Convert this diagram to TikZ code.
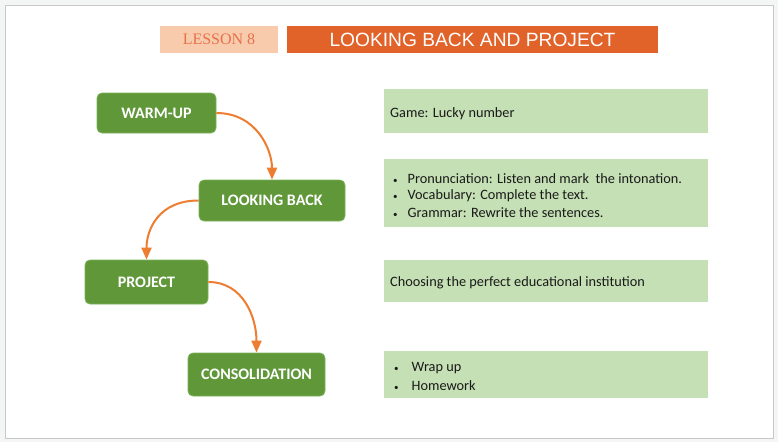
\documentclass[tikz,border=0pt]{standalone}
\usepackage{fontspec}
\setmainfont{Carlito}
\newfontfamily\arialf{Liberation Sans}
\newfontfamily\serff{Liberation Serif}
\usetikzlibrary{arrows.meta}
\definecolor{pagebg}{HTML}{F4F6F6}
\definecolor{framec}{HTML}{C8C8C8}
\definecolor{peach}{HTML}{F8CBAD}
\definecolor{salmon}{HTML}{E8704A}
\definecolor{titleor}{HTML}{E2632A}
\definecolor{greenf}{HTML}{5F9739}
\definecolor{greend}{HTML}{7DB35A}
\definecolor{lgreen}{HTML}{C5E0B4}
\definecolor{arrowc}{HTML}{ED7D31}
\definecolor{txt}{HTML}{1A1A1A}
\newcommand{\smbul}{{\fontsize{9}{9}\selectfont\textbullet}}
\tikzset{
  stepbox/.style={draw=greend, line width=0.8pt, fill=greenf, rounded corners=5pt, text=white,
    font=\fontsize{16}{18}\selectfont\bfseries, inner sep=0pt},
  infobox/.style={fill=lgreen, inner sep=0pt},
  infotext/.style={anchor=west, text=txt, font=\fontsize{14.3}{17}\selectfont, inner sep=0pt},
  flowarrow/.style={draw=arrowc, line width=2pt, -{Triangle[length=12pt,width=10pt]}},
}
\begin{document}
\begin{tikzpicture}[x=1pt,y=-1pt]
\fill[pagebg] (0,0) rectangle (778,442);
\useasboundingbox (0,0) rectangle (778,442);
\filldraw[fill=white, draw=framec, line width=1pt] (5,5) rectangle (773,438);

% header
\node[fill=peach, minimum width=118pt, minimum height=27pt, inner sep=0pt, text=salmon,
  font=\serff\fontsize{16}{18}\selectfont] (lesson) at (219,39.5) {LESSON 8};
\node[fill=titleor, minimum width=371pt, minimum height=27pt, inner sep=0pt, text=white,
  font=\arialf\fontsize{19.2}{22}\selectfont] (title) at (472.5,39.5) {LOOKING BACK AND PROJECT};

% step boxes
\node[stepbox, minimum width=119pt, minimum height=40pt] (warm) at (156.5,113) {WARM-UP};
\node[stepbox, minimum width=146pt, minimum height=41pt] (look) at (272,200.5) {LOOKING BACK};
\node[stepbox, minimum width=123pt, minimum height=44pt] (proj) at (146.5,282) {PROJECT};
\node[stepbox, minimum width=137pt, minimum height=43pt] (cons) at (256.5,374.5) {CONSOLIDATION};

% arrows
\draw[flowarrow] (warm.east) .. controls +(40,0) and +(0,-30) .. (look.north);
\draw[flowarrow] (look.west) .. controls +(-40,0) and +(0,-30) .. (proj.north);
\draw[flowarrow] (proj.east) .. controls +(35,0) and +(0,-35) .. (cons.north);

% info boxes
\node[infobox, minimum width=324pt, minimum height=44pt] (i1) at (546,111) {};
\node[infobox, minimum width=324pt, minimum height=68pt] (i2) at (546,193) {};
\node[infobox, minimum width=324pt, minimum height=42pt] (i3) at (546,281) {};
\node[infobox, minimum width=324pt, minimum height=47pt] (i4) at (546,374.5) {};

\node[infotext] (t1) at (390,113.5) {Game: Lucky number};
\node[infotext] (t2a) at (393,178.5) {\smbul\hspace{10pt}Pronunciation: Listen and mark\ \ the intonation.};
\node[infotext] (t2b) at (393,195.5) {\smbul\hspace{10pt}Vocabulary: Complete the text.};
\node[infotext] (t2c) at (393,212.5) {\smbul\hspace{10pt}Grammar: Rewrite the sentences.};
\node[infotext] (t3) at (390,282.5) {Choosing the perfect educational institution};
\node[infotext] (t4a) at (394,368.5) {\smbul\hspace{13pt}Wrap up};
\node[infotext] (t4b) at (394,385.5) {\smbul\hspace{13pt}Homework};
\end{tikzpicture}
\end{document}
